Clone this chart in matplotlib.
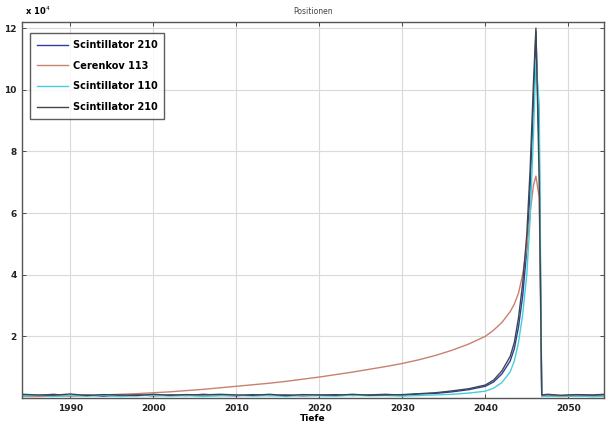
import matplotlib
matplotlib.use("Agg")
import matplotlib.pyplot as plt

# Data (values in units of 10^4)
years = [1984.3, 1986, 1988, 1990, 1992, 1994, 1996, 1998, 2000, 2002, 2004, 2006,
         2008, 2010, 2012, 2014, 2016, 2018, 2020, 2022, 2024, 2026, 2028, 2030,
         2032, 2034, 2036, 2038, 2040, 2041, 2042, 2043, 2043.5, 2044, 2044.5,
         2045, 2045.4, 2045.8, 2046.1, 2046.5, 2046.8, 2047.5, 2049, 2051, 2053, 2054.3]

scint210_a = [0.10, 0.08, 0.12, 0.07, 0.10, 0.06, 0.09, 0.11, 0.07, 0.10, 0.08, 0.12,
              0.09, 0.07, 0.11, 0.08, 0.10, 0.07, 0.09, 0.11, 0.08, 0.10, 0.12, 0.09,
              0.13, 0.15, 0.20, 0.27, 0.38, 0.52, 0.78, 1.20, 1.60, 2.30, 3.30,
              4.80, 6.80, 9.50, 11.9, 8.0, 0.08, 0.10, 0.07, 0.09, 0.08, 0.10]

cerenkov113 = [0.05, 0.05, 0.06, 0.07, 0.08, 0.10, 0.12, 0.14, 0.17, 0.20, 0.24, 0.28,
               0.33, 0.38, 0.43, 0.48, 0.54, 0.61, 0.68, 0.76, 0.84, 0.93, 1.02, 1.12,
               1.24, 1.38, 1.55, 1.75, 2.00, 2.20, 2.45, 2.80, 3.05, 3.40, 4.00,
               4.90, 6.00, 6.90, 7.20, 6.50, 0.05, 0.06, 0.05, 0.06, 0.05, 0.05]

scint110 = [0.06, 0.09, 0.05, 0.08, 0.06, 0.09, 0.05, 0.07, 0.09, 0.06, 0.08, 0.05,
            0.07, 0.09, 0.06, 0.08, 0.05, 0.09, 0.07, 0.06, 0.09, 0.07, 0.08, 0.06,
            0.08, 0.10, 0.12, 0.16, 0.22, 0.32, 0.50, 0.85, 1.20, 1.80, 2.70,
            4.00, 5.80, 8.50, 11.0, 9.5, 0.06, 0.05, 0.07, 0.06, 0.05, 0.06]

scint210_b = [0.12, 0.10, 0.09, 0.13, 0.08, 0.11, 0.10, 0.08, 0.12, 0.09, 0.11, 0.10,
              0.12, 0.10, 0.09, 0.12, 0.08, 0.11, 0.10, 0.09, 0.12, 0.09, 0.10, 0.11,
              0.14, 0.17, 0.23, 0.30, 0.42, 0.58, 0.88, 1.35, 1.80, 2.60, 3.70,
              5.30, 7.40, 10.2, 12.0, 7.0, 0.10, 0.12, 0.09, 0.11, 0.10, 0.12]

labels = ["Scintillator 210", "Cerenkov 113", "Scintillator 110", "Scintillator 210"]
colors = ["#2d3f9a", "#c98070", "#45cfd8", "#3e4650"]
series = [scint210_a, cerenkov113, scint110, scint210_b]

xticks = [1990, 2000, 2010, 2020, 2030, 2040, 2050]
yticks = [2, 4, 6, 8, 10, 12]

fig = plt.figure(figsize=(6.08, 4.29), dpi=100)
ax = fig.add_axes([22/608, 31/429, 582/608, 376/429])

for ys, c, lab in zip(series, colors, labels):
    ax.plot(years, ys, color=c, lw=1.0, label=lab)

ax.set_xlim(1984.2, 2054.3)
ax.set_ylim(0, 12.2)
ax.set_xticks(xticks)
ax.set_yticks(yticks)
ax.tick_params(direction="in", length=3, width=0.6, labelsize=6.5, top=True, right=True,
               colors="#333333", labelcolor="#222222", pad=4)
for lbl in ax.get_xticklabels() + ax.get_yticklabels():
    lbl.set_fontweight("bold")
ax.grid(True, color="#dadada", lw=0.8)
for s in ax.spines.values():
    s.set_color("#555555")
    s.set_linewidth(1.0)

ax.set_title("Positionen", fontsize=5.5, color="#444444", pad=6)
ax.set_xlabel("Tiefe", fontsize=6.5, fontweight="bold", labelpad=1)
ax.text(0.005, 1.012, r"x 10$^4$", transform=ax.transAxes, fontsize=6, fontweight="bold",
        ha="left", va="bottom")

leg = ax.legend(loc="upper left", bbox_to_anchor=(0.0135, 0.97), fontsize=7,
                frameon=True, fancybox=False, handlelength=3.2, handletextpad=0.5,
                borderpad=0.7, labelspacing=1.1, borderaxespad=0.0)
leg.get_frame().set_edgecolor("#333333")
leg.get_frame().set_linewidth(1.0)
for t in leg.get_texts():
    t.set_fontweight("bold")

fig.savefig("out.png", dpi=100)
